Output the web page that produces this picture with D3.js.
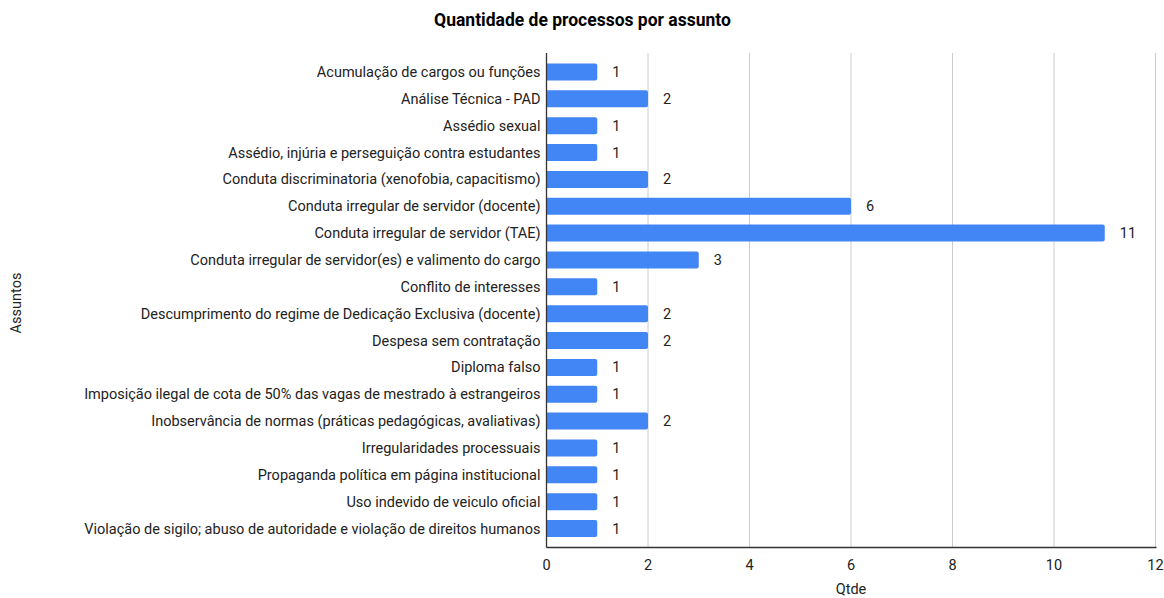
<!DOCTYPE html>
<html><head><meta charset="utf-8">
<script src="https://cdn.jsdelivr.net/npm/d3@7"></script>
<style>body{margin:0;background:#fff}svg{display:block;font-family:Roboto,Arial,sans-serif}</style>
</head><body><svg id="c" width="1164" height="598"></svg>
<script>
const categories = [
"Acumulação de cargos ou funções",
"Análise Técnica - PAD",
"Assédio sexual",
"Assédio, injúria e perseguição contra estudantes",
"Conduta discriminatoria (xenofobia, capacitismo)",
"Conduta irregular de servidor (docente)",
"Conduta irregular de servidor (TAE)",
"Conduta irregular de servidor(es) e valimento do cargo",
"Conflito de interesses",
"Descumprimento do regime de Dedicação Exclusiva (docente)",
"Despesa sem contratação",
"Diploma falso",
"Imposição ilegal de cota de 50% das vagas de mestrado à estrangeiros",
"Inobservância de normas (práticas pedagógicas, avaliativas)",
"Irregularidades processuais",
"Propaganda política em página institucional",
"Uso indevido de veiculo oficial",
"Violação de sigilo; abuso de autoridade e violação de direitos humanos"
];
const values = [1,2,1,1,2,6,11,3,1,2,2,1,1,2,1,1,1,1];
const xTicks = [0,2,4,6,8,10,12];
const title = "Quantidade de processos por assunto";
const xTitle = "Qtde";
const yTitle = "Assuntos";

const svg = d3.select("#c");
const L = 546.5, R = 1155.5, T = 53, B = 547.5;
const x = d3.scaleLinear().domain([0,12]).range([L,R]);
const y = d3.scaleBand().domain(categories).range([T,B]).paddingInner(0.367).paddingOuter(0.39);

// gridlines
svg.append("g").selectAll("line").data(xTicks.filter(d=>d>0)).join("line")
  .attr("x1",d=>x(d)).attr("x2",d=>x(d)).attr("y1",T).attr("y2",B)
  .attr("stroke","#cccccc").attr("stroke-width",1);

// bars
svg.append("g").selectAll("path").data(values).join("path")
  .attr("fill","#4285f4")
  .attr("d",(d,i)=>{
    const x0=x(0), x1=x(d), y0=y(categories[i]), h=y.bandwidth(), r=2;
    return `M${x0},${y0}H${x1-r}Q${x1},${y0} ${x1},${y0+r}V${y0+h-r}Q${x1},${y0+h} ${x1-r},${y0+h}H${x0}Z`;
  });

// value labels
svg.append("g").selectAll("text").data(values).join("text")
  .attr("x",d=>x(d)+15).attr("y",(d,i)=>y(categories[i])+y.bandwidth()/2)
  .attr("dy","0.35em").attr("font-size",14.5).attr("fill","#222")
  .text(d=>d);

// axes lines
svg.append("line").attr("x1",L).attr("x2",L).attr("y1",T).attr("y2",B).attr("stroke","#333").attr("stroke-width",1.3);
svg.append("line").attr("x1",L).attr("x2",R+1).attr("y1",B).attr("y2",B).attr("stroke","#333").attr("stroke-width",1.3);

// category labels
svg.append("g").selectAll("text").data(categories).join("text")
  .attr("x",L-6).attr("y",d=>y(d)+y.bandwidth()/2).attr("dy","0.35em")
  .attr("text-anchor","end").attr("font-size",14.5).attr("fill","#222").text(d=>d);

// x tick labels
svg.append("g").selectAll("text").data(xTicks).join("text")
  .attr("x",d=>x(d)).attr("y",570).attr("text-anchor","middle")
  .attr("font-size",14.5).attr("fill","#222").text(d=>d);

svg.append("text").attr("x",582.5).attr("y",26).attr("text-anchor","middle")
  .attr("font-size",17.5).attr("font-weight","bold").attr("fill","#000").text(title);
svg.append("text").attr("x",851).attr("y",594).attr("text-anchor","middle")
  .attr("font-size",14.5).attr("fill","#222").text(xTitle);
svg.append("text").attr("transform","translate(21,303) rotate(-90)").attr("text-anchor","middle")
  .attr("font-size",14.5).attr("fill","#222").text(yTitle);
</script></body></html>
